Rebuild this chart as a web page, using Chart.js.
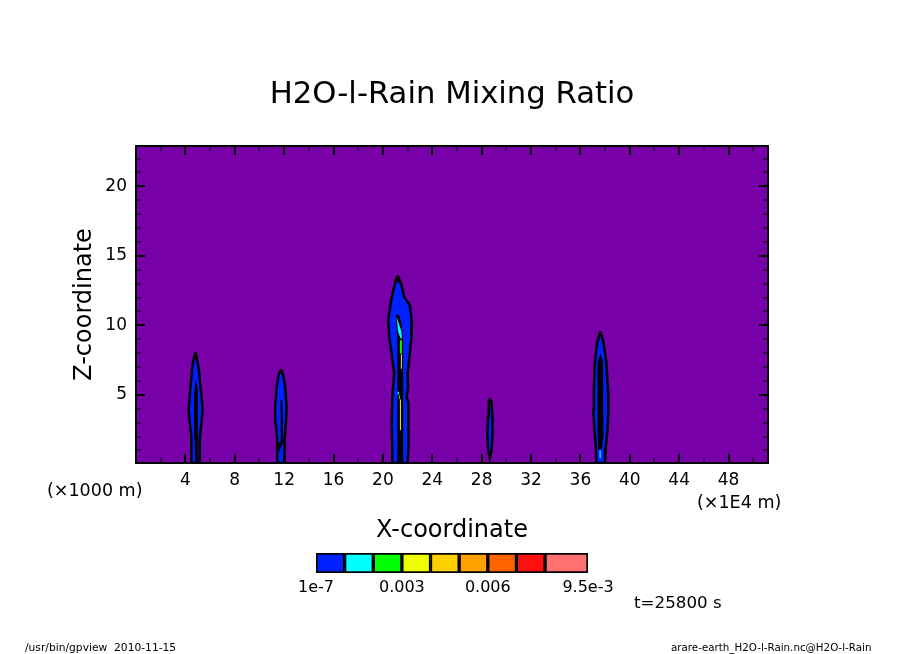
<!DOCTYPE html>
<html>
<head>
<meta charset="utf-8">
<title>H2O-l-Rain Mixing Ratio</title>
<script src="https://cdn.jsdelivr.net/npm/chart.js@4/dist/chart.umd.min.js"></script>
<style>
  html, body { margin: 0; padding: 0; background: #fff; }
  #wrap { position: relative; width: 904px; height: 654px; overflow: hidden; }
  #field { position: absolute; left: 0; top: 0; }
  #bar { position: absolute; left: 290px; top: 545px; }
</style>
</head>
<body>
<div id="wrap">
  <canvas id="field" width="904" height="654"></canvas>
  <canvas id="bar" width="340" height="60"></canvas>
</div>
<script>
// axis ticks, x in 1E4 m and z in 1000 m
const xMajorTicks = [4, 8, 12, 16, 20, 24, 28, 32, 36, 40, 44, 48];
const xMinorTicks = [2, 6, 10, 14, 18, 22, 26, 30, 34, 38, 42, 46, 50];
const zMajorTicks = [5, 10, 15, 20];
const zMinorTicks = [1, 2, 3, 4, 6, 7, 8, 9, 11, 12, 13, 14, 16, 17, 18, 19, 21, 22];

// the rain field below the first contour level covers the whole domain
const domain = [[0, 0.1], [51.2, 0.1], [51.2, 22.9], [0, 22.9]];

// contour outlines, [x, z]
const plume1Outer = [[4.83, 8.05], [4.95, 7.5], [5.1, 6.8], [5.18, 5.9], [5.29, 5.1], [5.4, 3.9], [5.29, 2.9], [5.18, 2.0], [5.16, 0.1],
  [4.48, 0.1], [4.48, 2.0], [4.37, 2.9], [4.26, 3.9], [4.37, 5.1], [4.45, 5.9], [4.53, 6.8], [4.64, 7.5]];
const plume1Core = [[4.83, 6.1], [5.0, 5.5], [5.02, 2.0], [5.0, 0.1], [4.8, 0.1], [4.74, 2.0], [4.7, 5.0]];

const plume2Outer = [[11.74, 6.83], [11.93, 6.42], [12.09, 5.58], [12.2, 4.14], [12.14, 2.94], [12.04, 1.74], [12.04, 0.1],
  [11.44, 0.1], [11.44, 1.74], [11.33, 2.94], [11.28, 4.14], [11.39, 5.58], [11.55, 6.42]];
const plume2Core = [[11.72, 4.7], [11.87, 4.5], [11.93, 1.6], [11.72, 1.2], [11.55, 0.8], [11.5, 1.4], [11.7, 1.7]];

const plume3Outer = [[21.19, 13.6], [21.51, 12.89], [21.73, 12.05], [22.19, 11.45], [22.35, 10.25], [22.32, 9.17], [22.19, 7.98],
  [22.0, 6.54], [22.05, 5.58], [21.92, 4.86], [22.08, 4.38], [22.08, 1.26], [22.0, 0.1],
  [20.76, 0.1], [20.76, 1.5], [20.7, 2.7], [20.76, 4.86], [20.92, 6.54], [20.7, 7.98], [20.51, 9.17], [20.43, 10.37],
  [20.62, 11.57], [20.84, 12.53], [21.05, 13.25]];
const plume3Core = [[21.05, 10.78], [21.32, 10.73], [21.51, 10.13], [21.64, 9.17], [21.64, 5.1], [21.64, 0.1],
  [21.16, 0.1], [21.16, 2.7], [21.19, 5.1], [21.19, 7.01], [21.16, 8.93]];
const plume3Tip = [[21.19, 13.55], [21.32, 13.1], [21.1, 13.1]];
const plume3UpperCyan = [[21.11, 10.61], [21.21, 10.37], [21.51, 9.53], [21.54, 9.05], [21.43, 9.05], [21.24, 9.53]];
const plume3UpperGreen = [[21.38, 8.93], [21.54, 8.93], [21.54, 7.98], [21.38, 7.98]];
const plume3UpperYellow = [[21.46, 7.93], [21.54, 7.93], [21.54, 6.87], [21.46, 6.87]];
const plume3LowerCyan = [[21.19, 5.22], [21.3, 5.22], [21.3, 5.03], [21.19, 5.03]];
const plume3LowerGreen = [[21.3, 4.98], [21.38, 4.98], [21.38, 4.71], [21.3, 4.71]];
const plume3LowerYellow = [[21.38, 4.67], [21.46, 4.67], [21.46, 2.46], [21.38, 2.46]];

const plume4Outer = [[28.66, 4.74], [28.8, 4.5], [28.88, 3.42], [28.88, 2.22], [28.8, 1.02], [28.66, 0.43],
  [28.53, 1.02], [28.45, 2.22], [28.53, 3.42], [28.58, 4.5]];

const plume5Outer = [[37.63, 9.58], [37.89, 8.7], [38.11, 7.26], [38.24, 5.34], [38.27, 3.9], [38.2, 2.46], [38.06, 1.26], [38.0, 0.1],
  [37.3, 0.1], [37.25, 1.26], [37.14, 2.46], [37.03, 3.9], [37.09, 5.34], [37.17, 7.26], [37.35, 8.7]];
const plume5Core = [[37.63, 7.98], [37.84, 7.37], [37.87, 1.98], [37.73, 1.07], [37.43, 1.07], [37.38, 3.18], [37.38, 7.26]];
const plume5Cyan = [[37.55, 1.02], [37.65, 1.02], [37.65, 0.45], [37.55, 0.45]];

// colour bar levels, one more than the colours
const barLevels = [1e-7, 0.001, 0.002, 0.003, 0.004, 0.005, 0.006, 0.007, 0.008, 0.0095];
const barColors = ['#0020ff', '#00ffff', '#00ff00', '#f0ff00', '#ffd000', '#ffa000', '#ff6400', '#ff1010', '#ff7070'];
const barTickValues = [1e-7, 0.003, 0.006, 0.0095];
const barTickLabels = ['1e-7', '0.003', '0.006', '9.5e-3'];

const FONT = '"DejaVu Sans"';
const PURPLE = '#7700a8';
const BLUE = barColors[0], CYAN = barColors[1], GREEN = barColors[2], YELLOW = barColors[3];

// one filled contour region
function region(name, outline, color, edge) {
  return {
    label: name,
    data: outline.concat([outline[0]]).map(p => ({x: p[0], y: p[1]})),
    showLine: true,
    fill: 'shape',
    backgroundColor: color,
    borderColor: edge ? '#000' : color,
    borderWidth: edge || 0,
    pointRadius: 0,
    tension: 0
  };
}

// listed bottom to top, chart.js draws the first dataset last when reversed
const layers = [
  region('domain', domain, PURPLE, 0),
  region('plume 1', plume1Outer, BLUE, 2.5),
  region('plume 1 core', plume1Core, '#000', 0),
  region('plume 2', plume2Outer, BLUE, 2.5),
  region('plume 2 core', plume2Core, '#000', 0),
  region('plume 3', plume3Outer, BLUE, 2.5),
  region('plume 3 core', plume3Core, '#000', 0),
  region('plume 3 tip', plume3Tip, '#000', 0),
  region('plume 3 cyan', plume3UpperCyan, CYAN, 0),
  region('plume 3 green', plume3UpperGreen, GREEN, 0),
  region('plume 3 yellow', plume3UpperYellow, YELLOW, 0),
  region('plume 3 low cyan', plume3LowerCyan, CYAN, 0),
  region('plume 3 low green', plume3LowerGreen, GREEN, 0),
  region('plume 3 low yellow', plume3LowerYellow, YELLOW, 0),
  region('plume 4', plume4Outer, BLUE, 2.5),
  region('plume 5', plume5Outer, BLUE, 2.5),
  region('plume 5 core', plume5Core, '#000', 0),
  region('plume 5 cyan', plume5Cyan, CYAN, 0)
].reverse();

// gpview draws ticks inward on all four sides plus a heavy frame
const frameAndTicks = {
  id: 'frameAndTicks',
  afterDatasetsDraw(chart) {
    const {ctx, chartArea: a, scales} = chart;
    ctx.save();
    ctx.strokeStyle = '#000';
    scales.x.ticks.forEach(t => {
      const px = Math.round(scales.x.getPixelForValue(t.value));
      const len = t.major ? 9 : 5;
      ctx.lineWidth = t.major ? 2 : 1;
      ctx.beginPath();
      ctx.moveTo(px, a.bottom); ctx.lineTo(px, a.bottom - len);
      ctx.moveTo(px, a.top); ctx.lineTo(px, a.top + len);
      ctx.stroke();
    });
    scales.y.ticks.forEach(t => {
      const py = Math.round(scales.y.getPixelForValue(t.value));
      const len = t.major ? 9 : 5;
      ctx.lineWidth = t.major ? 2 : 1;
      ctx.beginPath();
      ctx.moveTo(a.left, py); ctx.lineTo(a.left + len, py);
      ctx.moveTo(a.right, py); ctx.lineTo(a.right - len, py);
      ctx.stroke();
    });
    ctx.lineWidth = 2;
    ctx.strokeRect(a.left, a.top, a.right - a.left, a.bottom - a.top);
    ctx.restore();
  }
};

// unit labels, time stamp and footer lines
const notes = [
  {text: '(×1000 m)', x: 47, y: 491, size: 17.5},
  {text: '(×1E4 m)', x: 697, y: 503, size: 17.5},
  {text: 't=25800 s', x: 634, y: 604, size: 16.7},
  {text: '/usr/bin/gpview  2010-11-15', x: 25, y: 648, size: 10.7},
  {text: 'arare-earth_H2O-l-Rain.nc@H2O-l-Rain', x: 671, y: 648, size: 10.3}
];
const notesPlugin = {
  id: 'notes',
  afterDraw(chart) {
    const ctx = chart.ctx;
    ctx.save();
    ctx.fillStyle = '#000';
    ctx.textBaseline = 'middle';
    ctx.textAlign = 'left';
    notes.forEach(n => {
      ctx.font = n.size + 'px ' + FONT;
      ctx.fillText(n.text, n.x, n.y);
    });
    ctx.restore();
  }
};

new Chart(document.getElementById('field'), {
  type: 'scatter',
  data: {datasets: layers},
  plugins: [frameAndTicks, notesPlugin],
  options: {
    responsive: false,
    animation: false,
    devicePixelRatio: 1,
    layout: {padding: {left: 70, right: 136, top: 0, bottom: 109}},
    plugins: {
      legend: {display: false},
      tooltip: {enabled: false},
      title: {
        display: true,
        text: 'H2O-l-Rain Mixing Ratio',
        fullSize: false,
        color: '#000',
        font: {family: FONT, size: 30.7, weight: 'normal', lineHeight: 1.2},
        padding: {top: 77, bottom: 32.16}
      }
    },
    scales: {
      x: {
        type: 'linear',
        min: 0,
        max: 51.2,
        grid: {display: false},
        border: {display: false},
        title: {display: true, text: 'X-coordinate', color: '#000', font: {family: FONT, size: 24}, padding: 0},
        ticks: {
          color: '#000',
          font: {family: FONT, size: 17},
          padding: -1,
          autoSkip: false,
          maxRotation: 0,
          callback: v => (xMajorTicks.includes(v) ? String(v) : '')
        },
        afterBuildTicks(s) {
          s.ticks = xMajorTicks.map(v => ({value: v, major: true}))
            .concat(xMinorTicks.map(v => ({value: v, major: false})));
        },
        afterFit(s) { s.height = 82; }
      },
      y: {
        type: 'linear',
        min: 0.1,
        max: 22.9,
        grid: {display: false},
        border: {display: false},
        title: {display: true, text: 'Z-coordinate', color: '#000', font: {family: FONT, size: 24}, padding: 0},
        ticks: {
          color: '#000',
          font: {family: FONT, size: 17},
          padding: 1,
          autoSkip: false,
          callback: v => (zMajorTicks.includes(v) ? String(v) : '')
        },
        afterBuildTicks(s) {
          s.ticks = zMajorTicks.map(v => ({value: v, major: true}))
            .concat(zMinorTicks.map(v => ({value: v, major: false})));
        },
        afterFit(s) { s.width = 66; }
      }
    }
  }
});

// colour bar, one floating bar per level interval
new Chart(document.getElementById('bar'), {
  type: 'bar',
  data: {
    labels: ['level'],
    datasets: barColors.map((c, i) => ({
      label: String(barLevels[i]),
      data: [[barLevels[i], barLevels[i + 1]]],
      backgroundColor: c,
      borderColor: '#000',
      borderWidth: 2,
      borderSkipped: false
    }))
  },
  options: {
    indexAxis: 'y',
    responsive: false,
    animation: false,
    devicePixelRatio: 1,
    layout: {padding: {left: 26, right: 42, top: 8, bottom: 0}},
    datasets: {bar: {grouped: false, barPercentage: 1, categoryPercentage: 1}},
    plugins: {legend: {display: false}, tooltip: {enabled: false}},
    scales: {
      y: {display: false},
      x: {
        type: 'linear',
        min: barLevels[0],
        max: barLevels[barLevels.length - 1],
        grid: {display: false},
        border: {display: false},
        ticks: {
          color: '#000',
          font: {family: FONT, size: 16},
          padding: -3,
          autoSkip: false,
          maxRotation: 0,
          callback: v => barTickLabels[barTickValues.indexOf(v)]
        },
        afterBuildTicks(s) { s.ticks = barTickValues.map(v => ({value: v})); },
        afterFit(s) { s.height = 32; }
      }
    }
  }
});
</script>
</body>
</html>
